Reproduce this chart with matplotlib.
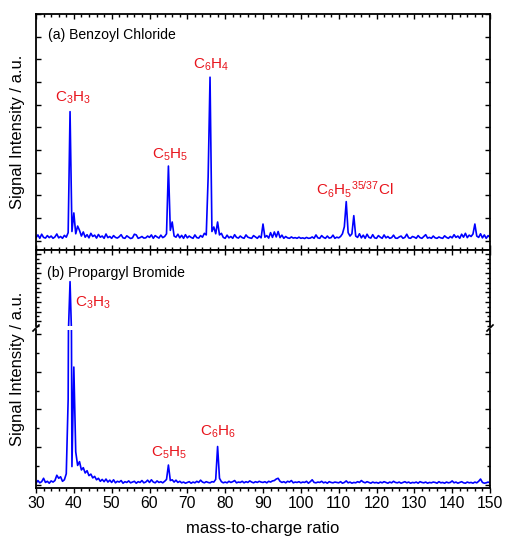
import numpy as np
import matplotlib
matplotlib.use("Agg")
import matplotlib.pyplot as plt
from matplotlib.ticker import MultipleLocator

plt.rcParams['font.family'] = ['Liberation Sans', 'DejaVu Sans']
plt.rcParams['mathtext.fontset'] = 'custom'
plt.rcParams['mathtext.rm'] = 'Liberation Sans'
plt.rcParams['mathtext.default'] = 'regular'

# m/z grid, 0.5 steps from 30 to 150
mz = np.arange(30, 150.01, 0.5)

# (a) Benzoyl Chloride (arb. units)
benzoyl = [
    1.2, 2.5, 1.0, 2.8, 1.4, 1.1, 2.2, 1.3, 2.0, 1.0, 1.6, 2.9, 1.2, 1.8, 1.0, 2.3, 1.5, 3.5, 56.9, 4.0,
    12.2, 3.0, 6.4, 4.5, 2.0, 3.8, 1.5, 2.6, 1.2, 3.2, 1.8, 2.4, 1.1, 2.7, 1.5, 2.0, 1.0, 2.9, 1.3, 1.8,
    1.0, 2.2, 1.4, 1.1, 1.7, 2.6, 1.2, 1.0, 2.1, 1.5, 0.9, 1.2, 2.8, 2.5, 1.0, 1.3, 1.8, 1.1, 1.2, 2.0,
    1.4, 2.5, 1.0, 2.2, 1.6, 1.1, 2.4, 1.3, 1.8, 3.0, 32.9, 4.5, 8.2, 2.0, 1.5, 2.8, 1.2, 2.3, 1.0, 2.6,
    1.2, 2.0, 1.4, 1.0, 2.5, 1.3, 1.1, 2.2, 1.5, 3.2, 2.5, 28.0, 72.1, 4.0, 6.0, 3.0, 8.2, 2.5, 3.2, 1.4,
    1.0, 2.4, 1.2, 1.8, 1.0, 2.6, 1.4, 1.1, 2.0, 1.3, 1.0, 2.5, 1.5, 1.2, 1.0, 2.2, 1.6, 1.0, 2.0, 1.2,
    7.3, 1.5, 2.2, 1.1, 3.5, 1.4, 3.8, 1.6, 4.0, 1.3, 2.4, 1.0, 1.8, 1.2, 1.0, 1.6, 1.1, 1.3, 1.0, 1.5,
    1.0, 1.2, 0.9, 1.4, 1.0, 1.1, 1.6, 1.0, 2.5, 1.2, 1.0, 2.2, 1.4, 1.0, 2.0, 1.1, 1.3, 2.4, 1.0, 1.5,
    1.2, 1.8, 3.0, 6.1, 17.2, 3.5, 2.0, 3.0, 11.0, 2.0, 1.4, 3.0, 1.2, 2.4, 1.0, 2.8, 1.4, 1.1, 2.6, 1.2,
    1.0, 2.2, 1.5, 1.0, 2.5, 1.2, 1.8, 1.0, 1.3, 2.4, 1.1, 1.0, 1.6, 2.0, 1.0, 1.4, 2.8, 1.2, 1.0, 1.8,
    1.5, 1.0, 2.2, 1.3, 1.0, 1.8, 2.6, 1.1, 1.4, 1.0, 2.0, 1.2, 1.0, 1.6, 1.2, 1.0, 2.1, 1.4, 1.0, 1.8,
    1.2, 2.6, 1.4, 2.0, 1.0, 2.8, 1.5, 3.2, 1.3, 2.4, 1.8, 2.9, 7.3, 2.0, 1.4, 3.0, 1.2, 2.5, 1.0, 2.2,
    1.4,
]

# (b) Propargyl Bromide
propargyl = [
    0.5, 1.2, 0.6, 0.9, 1.8, 0.7, 1.0, 0.5, 1.1, 0.8, 1.2, 2.6, 1.8, 2.2, 1.0, 1.4, 3.0, 22.7, 142.3, 4.9,
    31.2, 8.8, 5.2, 6.2, 4.0, 4.6, 3.2, 3.8, 2.5, 2.9, 1.9, 2.3, 1.4, 1.8, 1.0, 1.5, 0.9, 1.6, 0.8, 1.3,
    0.7, 1.4, 0.6, 1.0, 0.8, 1.2, 0.5, 0.9, 0.7, 1.1, 0.6, 0.8, 1.0, 0.5, 0.9, 0.7, 1.2, 0.6, 0.8, 1.3,
    0.7, 1.4, 0.8, 0.6, 1.1, 0.7, 0.9, 0.6, 1.0, 1.5, 5.3, 1.2, 1.4, 0.8, 1.3, 0.7, 1.0, 0.6, 0.8, 0.5,
    0.7, 0.9, 0.5, 0.8, 0.6, 1.0, 0.7, 1.3, 0.8, 0.6, 0.9, 0.7, 0.6, 0.9, 0.8, 1.5, 10.2, 1.8, 0.9, 0.6,
    0.8, 0.6, 1.0, 0.7, 0.9, 1.2, 0.6, 0.8, 0.7, 1.0, 0.6, 0.9, 0.7, 1.1, 0.8, 0.6, 0.9, 0.7, 1.0, 0.8,
    0.7, 0.9, 0.6, 1.0, 0.8, 1.1, 1.2, 1.6, 1.8, 1.0, 0.7, 0.9, 0.6, 1.0, 0.8, 1.2, 0.6, 0.8, 0.7, 0.9,
    0.6, 0.8, 0.7, 1.0, 0.5, 0.9, 1.4, 0.7, 0.6, 0.8, 0.7, 1.0, 0.6, 0.8, 0.5, 0.9, 0.7, 0.6, 0.8, 0.7,
    0.6, 0.9, 0.5, 0.7, 1.1, 0.6, 0.8, 0.5, 0.7, 0.6, 0.9, 0.7, 1.2, 0.8, 0.6, 0.9, 0.7, 0.5, 0.8, 0.6,
    0.7, 0.5, 0.8, 0.6, 0.9, 0.7, 0.5, 0.8, 0.6, 1.0, 0.7, 0.6, 0.8, 0.5, 0.7, 0.9, 0.6, 0.8, 0.5, 0.7,
    0.6, 0.8, 0.5, 0.9, 0.7, 0.6, 0.8, 0.5, 0.7, 0.6, 0.8, 0.7, 0.5, 0.9, 0.6, 0.7, 0.5, 0.8, 0.6, 0.7,
    1.1, 0.6, 0.8, 0.5, 0.7, 0.9, 0.6, 0.5, 0.8, 0.6, 0.7, 0.5, 0.8, 0.6, 1.0, 1.6, 0.7, 0.5, 0.6, 0.8,
    0.6,
]

W, H = 505, 539
fig = plt.figure(figsize=(W / 100, H / 100), dpi=100)


def px_axes(x0, y0, x1, y1):
    # axes from pixel box (top-left origin)
    return fig.add_axes([x0 / W, 1 - y1 / H, (x1 - x0) / W, (y1 - y0) / H])


blue = '#0000ff'
red = '#e8141c'
lw = 1.2

ax_a = px_axes(36, 14, 490, 250)
ax_bh = px_axes(36, 250, 490, 326)
ax_bl = px_axes(36, 330, 490, 488)

ax_a.plot(mz, benzoyl, color=blue, lw=lw)
ax_a.set_ylim(-4.16, 100)
ax_bh.plot(mz, propargyl, color=blue, lw=lw)
ax_bh.set_ylim(50, 208)
ax_bl.plot(mz, propargyl, color=blue, lw=lw)
ax_bl.set_ylim(-0.77, 41)

for ax in (ax_a, ax_bh, ax_bl):
    ax.set_xlim(30, 150)
    ax.xaxis.set_major_locator(MultipleLocator(10))
    ax.xaxis.set_minor_locator(MultipleLocator(2))
    ax.tick_params(which='both', direction='in', top=True, right=True,
                   labelleft=False, labelbottom=False, width=1.0)
    ax.tick_params(which='major', length=3.5)
    ax.tick_params(which='minor', length=2)
    for s in ax.spines.values():
        s.set_linewidth(1.3)

ax_a.yaxis.set_major_locator(MultipleLocator(10))
ax_a.yaxis.set_minor_locator(plt.NullLocator())

ax_bh.yaxis.set_major_locator(MultipleLocator(20))
ax_bh.yaxis.set_minor_locator(MultipleLocator(10))
ax_bh.spines['bottom'].set_visible(False)
ax_bh.tick_params(axis='x', which='both', bottom=False)

ax_bl.yaxis.set_major_locator(MultipleLocator(10))
ax_bl.yaxis.set_minor_locator(MultipleLocator(5))
ax_bl.spines['top'].set_visible(False)
ax_bl.tick_params(axis='x', which='both', top=False, direction='out')
ax_bl.tick_params(axis='x', labelbottom=True, labelsize=11.3, pad=2.5)
ax_bl.set_xlabel('mass-to-charge ratio', fontsize=12, labelpad=7)

# break marks on the split y-axis
for xf in (36 / W, 490 / W):
    fig.add_artist(plt.Line2D([xf - 3 / W, xf + 3 / W], [1 - 331 / H, 1 - 325 / H],
                              color='k', lw=1.2, transform=fig.transFigure))

# labels
ax_a.text(0.026, 0.911, '(a) Benzoyl Chloride', transform=ax_a.transAxes,
          fontsize=10.1, va='center', ha='left')
ax_bh.text(0.024, 0.70, '(b) Propargyl Bromide', transform=ax_bh.transAxes,
           fontsize=10.1, va='center', ha='left')

lab = dict(color=red, fontsize=11, ha='center', va='center')
ax_a.text(39.8, 62.9, 'C$_3$H$_3$', **lab)
ax_a.text(65.4, 37.8, 'C$_5$H$_5$', **lab)
ax_a.text(76.3, 77.5, 'C$_6$H$_4$', **lab)
ax_a.text(114.2, 22.3, 'C$_6$H$_5$$^{35/37}$Cl', **lab)
ax_bh.text(45.1, 97.9, 'C$_3$H$_3$', **lab)
ax_bl.text(65.2, 8.5, 'C$_5$H$_5$', **lab)
ax_bl.text(78.0, 14.1, 'C$_6$H$_6$', **lab)

fig.text(18 / W, 1 - 132 / H, 'Signal Intensity / a.u.', rotation=90,
         fontsize=11.9, ha='center', va='center')
fig.text(18 / W, 1 - 369 / H, 'Signal Intensity / a.u.', rotation=90,
         fontsize=11.9, ha='center', va='center')

fig.savefig('out.png', dpi=100)
